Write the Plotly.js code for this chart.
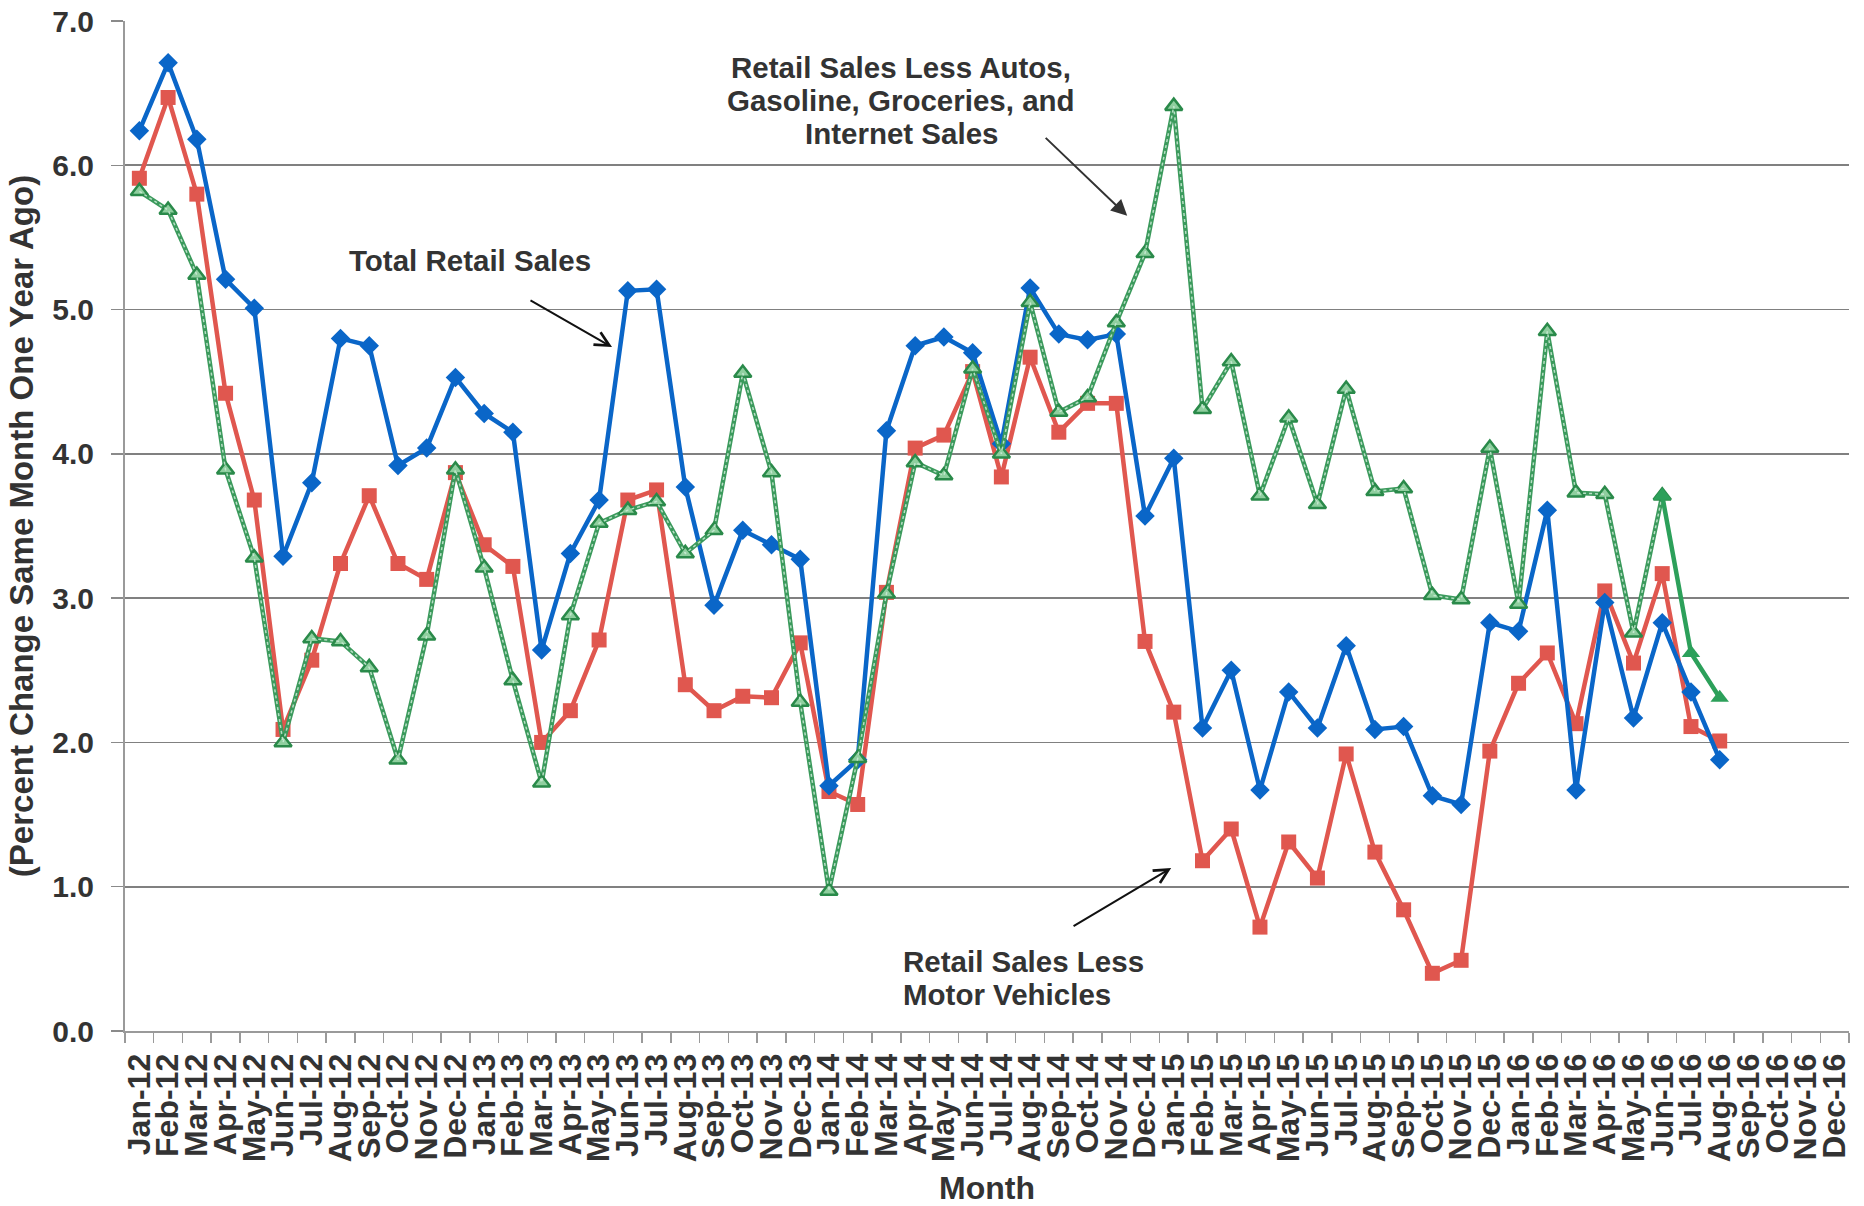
<!DOCTYPE html>
<html>
<head>
<meta charset="utf-8">
<script src="https://cdn.plot.ly/plotly-3.0.1.min.js"></script>
<style>
  html, body { margin: 0; padding: 0; background: #ffffff; }
  #chart { width: 1864px; height: 1206px; }
</style>
</head>
<body>
<div id="chart"></div>
<script>
// ---- Data ----
const months = [
  "Jan-12","Feb-12","Mar-12","Apr-12","May-12","Jun-12","Jul-12","Aug-12","Sep-12","Oct-12","Nov-12","Dec-12",
  "Jan-13","Feb-13","Mar-13","Apr-13","May-13","Jun-13","Jul-13","Aug-13","Sep-13","Oct-13","Nov-13","Dec-13",
  "Jan-14","Feb-14","Mar-14","Apr-14","May-14","Jun-14","Jul-14","Aug-14","Sep-14","Oct-14","Nov-14","Dec-14",
  "Jan-15","Feb-15","Mar-15","Apr-15","May-15","Jun-15","Jul-15","Aug-15","Sep-15","Oct-15","Nov-15","Dec-15",
  "Jan-16","Feb-16","Mar-16","Apr-16","May-16","Jun-16","Jul-16","Aug-16","Sep-16","Oct-16","Nov-16","Dec-16"
];

const totalRetail = [
  6.24, 6.71, 6.18, 5.21, 5.01, 3.29, 3.80, 4.80, 4.75, 3.92, 4.04, 4.53,
  4.28, 4.15, 2.64, 3.31, 3.68, 5.13, 5.14, 3.77, 2.95, 3.47, 3.37, 3.27,
  1.70, 1.88, 4.16, 4.75, 4.81, 4.70, 4.07, 5.15, 4.83, 4.79, 4.83, 3.57,
  3.97, 2.10, 2.50, 1.67, 2.35, 2.10, 2.67, 2.09, 2.11, 1.63, 1.57, 2.83,
  2.77, 3.61, 1.67, 2.97, 2.17, 2.83, 2.35, 1.88
];

const lessMotorVehicles = [
  5.91, 6.47, 5.80, 4.42, 3.68, 2.09, 2.57, 3.24, 3.71, 3.24, 3.13, 3.87,
  3.37, 3.22, 2.00, 2.22, 2.71, 3.68, 3.75, 2.40, 2.22, 2.32, 2.31, 2.69,
  1.66, 1.57, 3.04, 4.04, 4.13, 4.57, 3.84, 4.67, 4.15, 4.35, 4.35, 2.70,
  2.21, 1.18, 1.40, 0.72, 1.31, 1.06, 1.92, 1.24, 0.84, 0.40, 0.49, 1.94,
  2.41, 2.62, 2.13, 3.05, 2.55, 3.17, 2.11, 2.01
];

const lessAutosGasGroceriesInternet = [
  5.82, 5.69, 5.24, 3.89, 3.28, 2.00, 2.72, 2.70, 2.52, 1.88, 2.74, 3.89,
  3.21, 2.43, 1.72, 2.88, 3.52, 3.61, 3.67, 3.31, 3.47, 4.56, 3.87, 2.28,
  0.97, 1.89, 3.03, 3.94, 3.85, 4.59, 4.00, 5.05, 4.29, 4.39, 4.91, 5.39,
  6.41, 4.31, 4.64, 3.71, 4.25, 3.65, 4.45, 3.74, 3.76, 3.02, 2.99, 4.04,
  2.96, 4.85, 3.73, 3.72, 2.76, 3.71, 2.62, 2.31
];

const yTicks = [0, 1, 2, 3, 4, 5, 6, 7];
const yTickLabels = ["0.0", "1.0", "2.0", "3.0", "4.0", "5.0", "6.0", "7.0"];

const labelTotal = ["Total Retail Sales"];
const labelCore = ["Retail Sales Less Autos,", "Gasoline, Groceries, and", "Internet Sales"];
const labelLessMV = ["Retail Sales Less", "Motor Vehicles"];

// ---- Styling ----
const FONT = "Liberation Sans, Arial, sans-serif";
const TEXT = "#333333";
const BLUE = "#0a66c8";
const RED = "#e0574f";

const nData = totalRetail.length;
const xData = months.slice(0, nData);
const greenSolidStart = 53; // final months drawn as a solid green segment

const traces = [
  {
    x: xData, y: lessMotorVehicles, type: "scatter", mode: "lines+markers",
    name: "Retail Sales Less Motor Vehicles",
    line: { color: RED, width: 4.5 },
    marker: { symbol: "square", size: 15, color: RED }
  },
  {
    x: xData, y: totalRetail, type: "scatter", mode: "lines+markers",
    name: "Total Retail Sales",
    line: { color: BLUE, width: 4.5 },
    marker: { symbol: "diamond", size: 15, color: BLUE }
  },
  {
    x: xData.slice(0, greenSolidStart + 1),
    y: lessAutosGasGroceriesInternet.slice(0, greenSolidStart + 1),
    type: "scatter", mode: "lines+markers",
    name: "Retail Sales Less Autos, Gasoline, Groceries, and Internet Sales",
    line: { color: "#3b9a5c", width: 4.5 },
    marker: { symbol: "triangle-up", size: 15, color: "#8fcf9f",
              line: { color: "#2a8a4a", width: 2.5 } }
  },
  {
    x: xData.slice(0, greenSolidStart + 1),
    y: lessAutosGasGroceriesInternet.slice(0, greenSolidStart + 1),
    type: "scatter", mode: "lines", hoverinfo: "skip",
    line: { color: "rgba(205,235,215,0.85)", width: 1.5, dash: "dot" }
  },
  {
    x: xData.slice(greenSolidStart),
    y: lessAutosGasGroceriesInternet.slice(greenSolidStart),
    type: "scatter", mode: "lines+markers", hoverinfo: "skip",
    line: { color: "#2ca05a", width: 4.5 },
    marker: { symbol: "triangle-up", size: 16, color: "#2ca05a" }
  }
];

const annFont = { family: FONT, size: 29.5, color: TEXT, weight: 700 };

function textLine(txt, x, y, anchor) {
  return { xref: "x", yref: "y", x: x, y: y, text: txt, showarrow: false,
           font: annFont, xanchor: anchor, yanchor: "middle", align: anchor };
}
function arrow(x, y, ax, ay, head, color, size) {
  return { xref: "x", yref: "y", axref: "x", ayref: "y", x: x, y: y, ax: ax, ay: ay,
           text: "", showarrow: true, arrowhead: head, arrowsize: size,
           arrowwidth: 2, arrowcolor: color };
}

const layout = {
  width: 1864, height: 1206,
  margin: { l: 125, r: 15, t: 21, b: 175 },
  paper_bgcolor: "#ffffff", plot_bgcolor: "#ffffff",
  showlegend: false,
  font: { family: FONT, color: TEXT },
  xaxis: {
    type: "category",
    categoryorder: "array", categoryarray: months,
    range: [-0.5, months.length - 0.5],
    tickmode: "array", tickvals: months, ticktext: months,
    tickson: "boundaries",
    ticks: "outside", ticklen: 10, tickwidth: 1.5, tickcolor: "#9a9a9a",
    tickangle: -90,
    tickfont: { family: FONT, size: 32, color: TEXT, weight: 700 },
    ticklabelstandoff: 8,
    showline: true, linecolor: "#9a9a9a", linewidth: 2,
    showgrid: false, zeroline: false,
    title: { text: "Month", standoff: 16,
             font: { family: FONT, size: 32, color: TEXT, weight: 700 } }
  },
  yaxis: {
    range: [0, 7],
    tickmode: "array", tickvals: yTicks, ticktext: yTickLabels,
    ticks: "outside", ticklen: 12, tickwidth: 1.5, tickcolor: "#8a8a8a",
    tickfont: { family: FONT, size: 30, color: TEXT, weight: 700 },
    ticklabelstandoff: 11,
    showgrid: true, gridcolor: "#808080", gridwidth: 1.6,
    showline: true, linecolor: "#9a9a9a", linewidth: 2,
    zeroline: false,
    title: { text: "(Percent Change Same Month One Year Ago)", standoff: 9,
             font: { family: FONT, size: 33, color: TEXT, weight: 700 } }
  },
  annotations: [
    textLine(labelTotal[0], 11.49, 5.34, "center"),
    arrow(16.45, 4.74, 13.56, 5.07, 5, "#111111", 1.4),

    textLine(labelCore[0], 26.51, 6.68, "center"),
    textLine(labelCore[1], 26.51, 6.45, "center"),
    textLine(labelCore[2], 26.51, 6.22, "center"),
    arrow(34.38, 5.65, 31.49, 6.20, 2, "#333333", 1.6),

    textLine(labelLessMV[0], 26.51, 0.48, "left"),
    textLine(labelLessMV[1], 26.51, 0.25, "left"),
    arrow(35.91, 1.13, 32.46, 0.72, 5, "#111111", 1.4)
  ]
};

Plotly.newPlot("chart", traces, layout, { staticPlot: true, displayModeBar: false });
</script>
</body>
</html>
